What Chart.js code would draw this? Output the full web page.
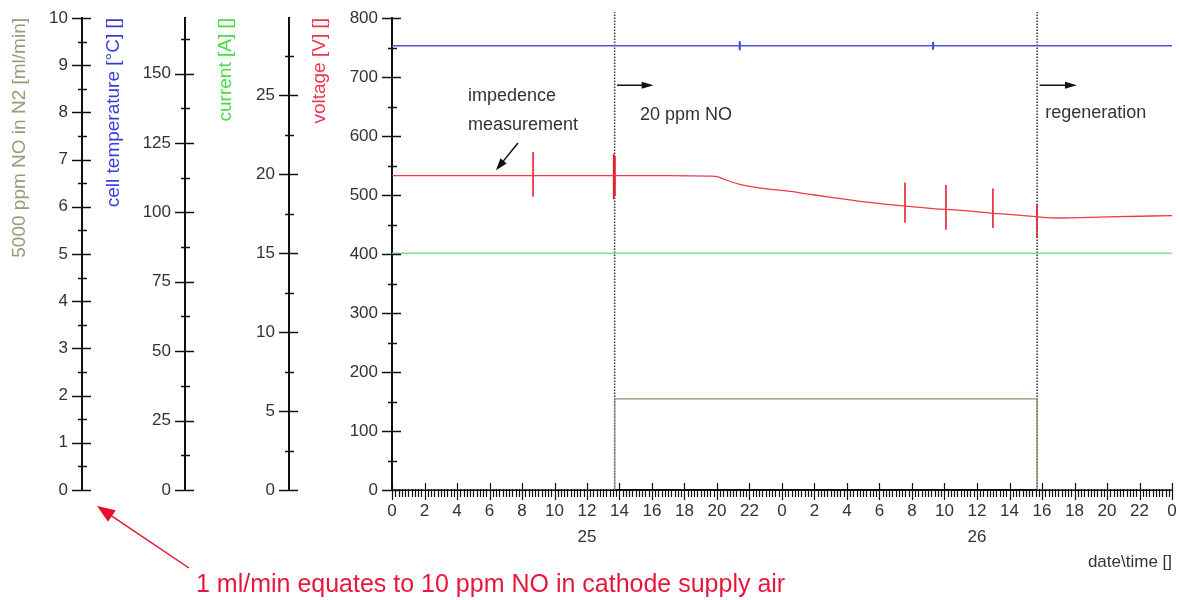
<!DOCTYPE html>
<html>
<head>
<meta charset="utf-8">
<script src="https://cdn.jsdelivr.net/npm/chart.js@4.4.0/dist/chart.umd.min.js"></script>
<style>
  html, body { margin: 0; background: #fff; }
  canvas { display: block; }
</style>
</head>
<body>
<canvas id="chart" width="1180" height="600"></canvas>
<script>
// hours since 0:00 on day 25
const voltHours  = [0, 10, 17, 19.5, 20, 20.6, 21.4, 22.6, 24.5, 26, 27.6, 29.5, 31.6, 33.3, 35, 37, 38.5, 39.7, 41, 44, 48]
const voltValues = [533, 533, 533, 532, 531, 525, 518, 512, 506, 500, 494, 487, 481, 477, 474, 469, 466, 463, 461, 463, 465]

// impedance measurement spikes on the voltage trace
const spikeHours = [8.68, 13.64, 13.72, 31.57, 34.09, 36.98, 39.69]
const spikeHigh  = [573, 570, 566, 521, 517, 511, 483]
const spikeLow   = [497, 493, 498, 453, 441, 444, 427]

const tempHours  = [0, 48]
const tempValues = [160, 160]
const tempBlipHours = [21.4, 33.3]
const tempBlipHigh  = [161.6, 161.4]
const tempBlipLow   = [158.4, 158.6]

const currentHours  = [0, 48]
const currentValues = [15, 15]

const flowHours  = [0, 13.7, 13.7, 39.7, 39.7, 48]
const flowValues = [0, 0, 1.93, 1.93, 0, 0]

const markerHours = [13.7, 39.7]
const dayTickHours = [12, 36]
const dayLabels = ['25', '26']

const FONT = '"Liberation Sans", Arial, sans-serif'
Chart.defaults.font.family = FONT
Chart.defaults.color = '#333'

const toPts = (xs, ys) => xs.map((x, i) => ({x: x, y: ys[i]}))

function spikes(xs, hi, lo){
  const pts = []
  xs.forEach((x, i) => {
    pts.push({x: x, y: hi[i]})
    pts.push({x: x, y: lo[i]})
    pts.push({x: x, y: null})
  })
  return pts
}

const markerSets = markerHours.map((h) => ({
  data: [{x: h, y: 0}, {x: h, y: 810}],
  yAxisID: 'yV',
  borderColor: '#333',
  borderWidth: 1.5,
  borderDash: [1.5, 1.5],
  clip: false,
}))

function arrow(ctx, x1, y1, x2, y2, color, len, half){
  const a = Math.atan2(y2 - y1, x2 - x1)
  ctx.strokeStyle = color
  ctx.fillStyle = color
  ctx.lineWidth = 1.5
  ctx.beginPath()
  ctx.moveTo(x1, y1)
  ctx.lineTo(x2 - Math.cos(a) * len * 0.6, y2 - Math.sin(a) * len * 0.6)
  ctx.stroke()
  ctx.beginPath()
  ctx.moveTo(x2, y2)
  ctx.lineTo(x2 - Math.cos(a) * len - Math.sin(a) * half, y2 - Math.sin(a) * len + Math.cos(a) * half)
  ctx.lineTo(x2 - Math.cos(a) * len + Math.sin(a) * half, y2 - Math.sin(a) * len - Math.cos(a) * half)
  ctx.closePath()
  ctx.fill()
}

const notes = {
  id: 'notes',
  afterDatasetsDraw(chart){
    const ctx = chart.ctx
    const x = chart.scales.x
    const yV = chart.scales.yV
    const px = (h) => x.getPixelForValue(h)
    const py = (v) => yV.getPixelForValue(v)
    ctx.save()
    ctx.font = '18px ' + FONT
    ctx.fillStyle = '#333'
    ctx.textAlign = 'left'
    ctx.textBaseline = 'middle'
    ctx.fillText('impedence', px(4.68), py(667))
    ctx.fillText('measurement', px(4.68), py(618))
    ctx.fillText('20 ppm NO', px(15.26), py(636))
    ctx.fillText('regeneration', px(40.2), py(639))
    arrow(ctx, px(7.75), py(588), px(6.4), py(542), '#111', 12, 4)
    arrow(ctx, px(13.85), py(686), px(16.1), py(686), '#111', 12, 3.5)
    arrow(ctx, px(39.85), py(686), px(42.15), py(686), '#111', 12, 3.5)
    ctx.restore()
  },
  afterDraw(chart){
    const ctx = chart.ctx
    ctx.save()
    ctx.strokeStyle = '#111'
    ctx.lineWidth = 1.5
    // crossing tick marks on the four value axes
    const yTicks = [['yF', 1, 0.5], ['yT', 25, 12.5], ['yC', 5, 2.5], ['yV', 100, 50]]
    yTicks.forEach(([id, major, minor]) => {
      const s = chart.scales[id]
      const ax = s.right - 1
      for(let v = 0; v <= s.max + 1e-6; v += minor){
        const y = Math.round(s.getPixelForValue(v)) + 0.5
        const big = Math.abs(v / major - Math.round(v / major)) < 1e-6
        ctx.beginPath()
        ctx.moveTo(ax - (big ? 9 : 3), y)
        ctx.lineTo(ax + (big ? 10 : 6), y)
        ctx.stroke()
      }
    })
    const x = chart.scales.x
    const ay = x.top + 1
    ctx.lineWidth = 1.2
    for(let h = 0; h <= 48 + 1e-6; h += 0.2){
      const xx = Math.round(x.getPixelForValue(h)) + 0.5
      const big = Math.abs(h / 2 - Math.round(h / 2)) < 1e-6
      ctx.beginPath()
      ctx.moveTo(xx, ay - (big ? 8 : 2))
      ctx.lineTo(xx, ay + (big ? 9 : 6))
      ctx.stroke()
    }
    // footnote about the flow axis
    const f = chart.scales.yF
    const fx = f.right
    const fy = f.getPixelForValue(0)
    arrow(ctx, fx + 107, fy + 78, fx + 15, fy + 16, '#e8102c', 18, 7)
    ctx.font = '25px ' + FONT
    ctx.fillStyle = '#e8173c'
    ctx.textAlign = 'left'
    ctx.textBaseline = 'middle'
    ctx.fillText('1 ml/min equates to 10 ppm NO in cathode supply air', fx + 114, fy + 95)
    ctx.restore()
  }
}

function yAxis(weight, width, max, step, title, color, pad, extra){
  return Object.assign({
    position: 'left',
    weight: weight,
    min: 0,
    max: max,
    afterFit(s){
      s.width = width
      s.paddingTop = 0
      s.paddingBottom = 0
    },
    grid: {display: false, drawTicks: false},
    border: {display: true, color: '#111', width: 2},
    ticks: {stepSize: step, padding: 14, color: '#333', font: {size: 17}},
    title: {display: true, text: title, color: color, align: 'end', font: {size: 19}, padding: {top: pad, bottom: 0}},
  }, extra || {})
}

new Chart(document.getElementById('chart'), {
  type: 'line',
  data: {
    datasets: [
      {data: toPts(flowHours, flowValues), yAxisID: 'yF', borderColor: '#8f8f72', borderWidth: 1.3},
      {data: toPts(currentHours, currentValues), yAxisID: 'yC', borderColor: '#86e086', borderWidth: 1.5},
      {data: toPts(tempHours, tempValues), yAxisID: 'yT', borderColor: '#5252dc', borderWidth: 1.3},
      {data: spikes(tempBlipHours, tempBlipHigh, tempBlipLow), yAxisID: 'yT', borderColor: '#3a3ad8', borderWidth: 2, spanGaps: false},
      {data: toPts(voltHours, voltValues), yAxisID: 'yV', borderColor: '#ee3a4c', borderWidth: 1.3, cubicInterpolationMode: 'monotone'},
      {data: spikes(spikeHours, spikeHigh, spikeLow), yAxisID: 'yV', borderColor: '#e8202e', borderWidth: 1.6, spanGaps: false},
      ...markerSets,
    ]
  },
  options: {
    responsive: false,
    animation: false,
    devicePixelRatio: 1,
    elements: {point: {radius: 0}, line: {tension: 0}},
    layout: {padding: {left: 0, right: 8, top: 18, bottom: 0}},
    plugins: {legend: {display: false}, tooltip: {enabled: false}},
    scales: {
      x: {
        type: 'linear',
        position: 'bottom',
        min: 0,
        max: 48,
        afterFit(s){
          s.height = 110
          s.paddingLeft = 0
          s.paddingRight = 0
        },
        grid: {display: false, drawTicks: false},
        border: {display: true, color: '#111', width: 2},
        ticks: {
          stepSize: 2,
          autoSkip: false,
          maxRotation: 0,
          padding: 9,
          color: '#333',
          font: {size: 17, lineHeight: 1.5},
          callback: (v) => {
            const i = dayTickHours.indexOf(v)
            const h = String(v % 24)
            return i >= 0 ? [h, dayLabels[i]] : h
          }
        },
        title: {display: true, text: 'date\\time []', align: 'end', color: '#333', font: {size: 17}, padding: {top: 0, bottom: 27}}
      },
      yV: yAxis(1, 103, 800, 100, 'voltage [V] []', '#ee3350', 19.5),
      yC: yAxis(2, 104, 29.9, 5, 'current [A] []', '#44dd44', 29.5, {ticks: {stepSize: 5, padding: 14, color: '#333', font: {size: 17}, includeBounds: false}}),
      yT: yAxis(3, 103, 170, 25, 'cell temperature [°C] []', '#3b3bdc', 20.5, {ticks: {stepSize: 25, padding: 14, color: '#333', font: {size: 17}, includeBounds: false}}),
      yF: yAxis(4, 82, 10, 1, '5000 ppm NO in N2 [ml/min]', '#9a9a7a', 8.5),
    }
  },
  plugins: [notes]
})
</script>
</body>
</html>
